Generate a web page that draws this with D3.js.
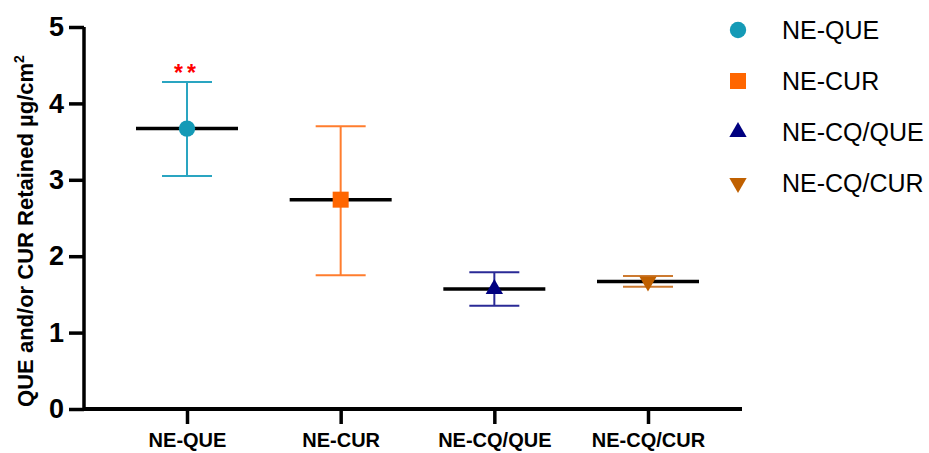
<!DOCTYPE html>
<html>
<head>
<meta charset="utf-8">
<script src="https://cdn.jsdelivr.net/npm/d3@7"></script>
<style>
  body { margin: 0; background: #fff; }
  text { font-family: "Liberation Sans", Arial, sans-serif; }
</style>
</head>
<body>
<div id="chart"></div>
<script>
var categories = ["NE-QUE", "NE-CUR", "NE-CQ/QUE", "NE-CQ/CUR"];
var means = [3.67, 2.74, 1.57, 1.67];
var upper = [4.28, 3.70, 1.79, 1.74];
var lower = [3.05, 1.75, 1.35, 1.60];
var markerColors = ["#149ab6", "#ff6600", "#000080", "#c06000"];
var barColors = ["#2aa5c1", "#ff7d2e", "#2a2a96", "#cc7a30"];
var yTicks = [0, 1, 2, 3, 4, 5];
var stars = ["**", "", "", ""];

var margin = {top: 27, right: 189, bottom: 44, left: 84};
var width = 929 - margin.left - margin.right;
var height = 453 - margin.top - margin.bottom;

var svg = d3.select("#chart").append("svg")
    .attr("width", 929).attr("height", 453)
    .append("g")
    .attr("transform", "translate(" + margin.left + "," + margin.top + ")");

var y = d3.scaleLinear().domain([0, 5]).range([height, 0]);
var x = d3.scalePoint().domain(categories).range([103, 564]);

var symbols = [
    d3.symbol().type(d3.symbolCircle).size(210),
    d3.symbol().type(d3.symbolSquare).size(256),
    d3.symbol().type(d3.symbolTriangle).size(130),
    d3.symbol().type(d3.symbolTriangle).size(130)
];
var rot = [0, 0, 0, 180];

// y axis
var yAxis = svg.append("g")
    .call(d3.axisLeft(y).tickValues(yTicks).tickSize(15).tickPadding(5).tickFormat(d3.format("d")));
yAxis.select(".domain").attr("stroke-width", 3.5).attr("d", "M0," + height + "V0");
yAxis.selectAll(".tick line").attr("stroke-width", 3.5);
yAxis.selectAll("text").attr("font-size", 27).attr("font-weight", "bold").attr("fill", "#000");

// x axis
var xAxis = svg.append("g")
    .attr("transform", "translate(0," + height + ")")
    .call(d3.axisBottom(x).tickSize(15).tickPadding(9));
xAxis.select(".domain").attr("stroke-width", 4).attr("d", "M0,0H" + (width + 2));
xAxis.selectAll(".tick line").attr("stroke-width", 3.5);
xAxis.selectAll("text").attr("font-size", 20).attr("font-weight", "bold").attr("fill", "#000");

// y label
svg.append("text")
    .attr("transform", "rotate(-90)")
    .attr("x", -(231 - margin.top))
    .attr("y", 33 - margin.left)
    .attr("text-anchor", "middle")
    .attr("font-size", 22)
    .attr("font-weight", "bold")
    .html('QUE and/or CUR Retained µg/cm<tspan dy="-9" font-size="14">2</tspan>');

var groups = svg.selectAll(".grp").data(categories).enter().append("g").attr("class", "grp");

// error bars
groups.append("line")
    .attr("x1", d => x(d)).attr("x2", d => x(d))
    .attr("y1", (d, i) => y(upper[i])).attr("y2", (d, i) => y(lower[i]))
    .attr("stroke", (d, i) => barColors[i]).attr("stroke-width", 2);
groups.append("line")
    .attr("x1", d => x(d) - 25).attr("x2", d => x(d) + 25)
    .attr("y1", (d, i) => y(upper[i])).attr("y2", (d, i) => y(upper[i]))
    .attr("stroke", (d, i) => barColors[i]).attr("stroke-width", 2);
groups.append("line")
    .attr("x1", d => x(d) - 25).attr("x2", d => x(d) + 25)
    .attr("y1", (d, i) => y(lower[i])).attr("y2", (d, i) => y(lower[i]))
    .attr("stroke", (d, i) => barColors[i]).attr("stroke-width", 2);

// mean lines
groups.append("line")
    .attr("x1", d => x(d) - 51).attr("x2", d => x(d) + 51)
    .attr("y1", (d, i) => y(means[i])).attr("y2", (d, i) => y(means[i]))
    .attr("stroke", "#000").attr("stroke-width", 3.5);

// markers
groups.append("path")
    .attr("d", (d, i) => symbols[i]())
    .attr("transform", (d, i) => "translate(" + x(d) + "," + y(means[i]) + ") rotate(" + rot[i] + ")")
    .attr("fill", (d, i) => markerColors[i]);

// significance stars
groups.append("text")
    .attr("x", d => x(d)).attr("y", (d, i) => y(upper[i]) - 1)
    .attr("text-anchor", "middle")
    .attr("font-size", 23).attr("font-weight", "bold").attr("fill", "#ff0000")
    .attr("letter-spacing", 4)
    .text((d, i) => stars[i]);

// legend
var legend = svg.append("g").attr("transform", "translate(" + (738 - margin.left) + ",0)");
var items = legend.selectAll("g").data(categories).enter().append("g")
    .attr("transform", (d, i) => "translate(0," + (30 - margin.top + i * 51) + ")");
items.append("path")
    .attr("d", (d, i) => symbols[i]())
    .attr("transform", (d, i) => "rotate(" + rot[i] + ")")
    .attr("fill", (d, i) => markerColors[i]);
items.append("text")
    .attr("x", 44).attr("y", 9)
    .attr("font-size", 25)
    .attr("fill", "#000")
    .text(d => d);
</script>
</body>
</html>
